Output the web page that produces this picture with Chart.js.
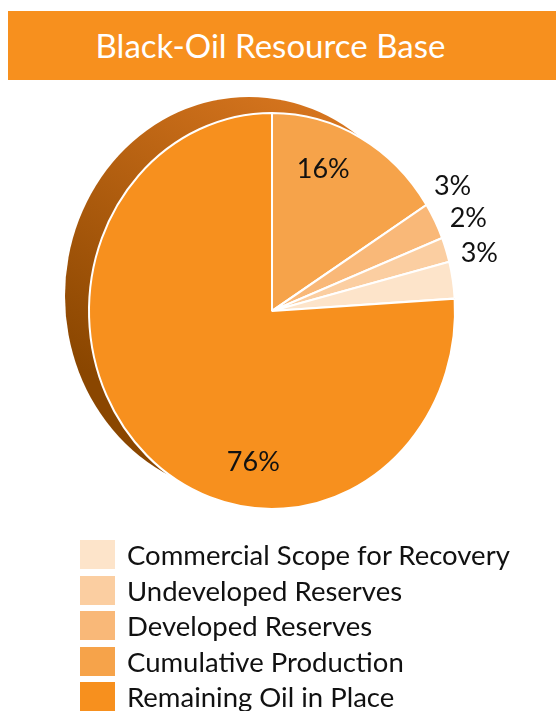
<!DOCTYPE html>
<html>
<head>
<meta charset="utf-8">
<script src="https://cdn.jsdelivr.net/npm/chart.js@4.4.1/dist/chart.umd.min.js"></script>
<style>
    body { margin: 0; width: 556px; height: 711px; overflow: hidden; background: #fff; position: relative; font-family: Lato, 'Open Sans', sans-serif; }
    #pieChart { position: absolute; left: 0; top: 0; }
    .title-bar {
        position: absolute; left: 8px; top: 11px; width: 548px; height: 69px;
        background: #F7901E; color: #fff; font-size: 33px; line-height: 69px;
        text-align: center; box-sizing: border-box; padding-right: 23px;
    }
    .legend { position: absolute; left: 80px; top: 540px; }
    .legend-row { position: relative; height: 35.5px; }
    .legend-box { position: absolute; left: 0; top: 0; width: 35px; height: 29px; }
    .legend-text { position: absolute; left: 47px; top: -3px; font-size: 27.5px; line-height: 35px; color: #111; white-space: nowrap; }
</style>
</head>
<body>
<canvas id="pieChart" width="556" height="711"></canvas>
<div class="title-bar">Black-Oil Resource Base</div>
<div class="legend" id="legend"></div>
<script>
// slices in clockwise order starting at 12 o'clock
const categories = ['Cumulative Production', 'Developed Reserves', 'Undeveloped Reserves', 'Commercial Scope for Recovery', 'Remaining Oil in Place'];
const shares = [16, 3, 2, 3, 76];
const sliceColors = ['#F6A34A', '#F9B878', '#FBCEA1', '#FDE4CA', '#F7901E'];
// order the legend lists the categories in
const legendOrder = [3, 2, 1, 0, 4];

const ELLIPSE_Y = 1.082;          // pie is drawn a bit taller than wide
const SIDE_SHIFT = { x: -23, y: -15 };

function sliceCenter(arc) {
    return arc.getProps(['x', 'y', 'startAngle', 'endAngle', 'outerRadius'], true);
}

// dark rim behind the pie face + vertical stretch of the face
const pieDepth = {
    id: 'pieDepth',
    beforeDatasetsDraw(chart) {
        const ctx = chart.ctx;
        const { x, y, outerRadius: r } = sliceCenter(chart.getDatasetMeta(0).data[0]);
        ctx.save();
        ctx.translate(x, y);
        ctx.scale(1, ELLIPSE_Y);
        ctx.translate(-x, -y);

        const cx = x + SIDE_SHIFT.x, cy = y + SIDE_SHIFT.y / ELLIPSE_Y;
        const grad = ctx.createLinearGradient(cx + r * 0.4, cy - r, cx - r * 0.5, cy + r * 0.6);
        grad.addColorStop(0, '#D8761F');
        grad.addColorStop(1, '#8A4600');
        ctx.fillStyle = grad;
        ctx.beginPath();
        ctx.arc(cx, cy, r + 1, 0, Math.PI * 2);
        ctx.fill();
    },
    afterDatasetsDraw(chart) {
        const ctx = chart.ctx;
        ctx.restore();

        ctx.save();
        ctx.fillStyle = '#111';
        ctx.font = '27px Lato, sans-serif';
        ctx.textAlign = 'center';
        ctx.textBaseline = 'middle';
        chart.getDatasetMeta(0).data.forEach((arc, i) => {
            const { x, y, startAngle, endAngle, outerRadius } = sliceCenter(arc);
            let a, rr;
            if (shares[i] >= 10) {
                a = startAngle + 0.37 * (endAngle - startAngle);
                rr = outerRadius * 0.77;
            } else {
                a = (startAngle + endAngle) / 2 - 5.5 * Math.PI / 180;
                rr = outerRadius * 1.17;
            }
            ctx.fillText(shares[i] + '%', x + rr * Math.cos(a), y + rr * Math.sin(a) * ELLIPSE_Y);
        });
        ctx.restore();
    }
};

const ctx = document.getElementById('pieChart').getContext('2d');
const pieChart = new Chart(ctx, {
    type: 'pie',
    data: {
        labels: categories,
        datasets: [{
            data: shares,
            backgroundColor: sliceColors,
            borderColor: '#ffffff',
            borderWidth: 2,
            clip: false
        }]
    },
    options: {
        responsive: false,
        animation: false,
        layout: { padding: { left: 88, right: 100, top: 127, bottom: 216 } },
        plugins: {
            legend: { display: false },
            tooltip: { enabled: false }
        }
    },
    plugins: [pieDepth]
});

// legend rows
const legend = document.getElementById('legend');
legendOrder.forEach(i => {
    const row = document.createElement('div');
    row.className = 'legend-row';
    row.innerHTML = `<div class="legend-box" style="background:${sliceColors[i]}"></div><div class="legend-text">${categories[i]}</div>`;
    legend.appendChild(row);
});
</script>
</body>
</html>
